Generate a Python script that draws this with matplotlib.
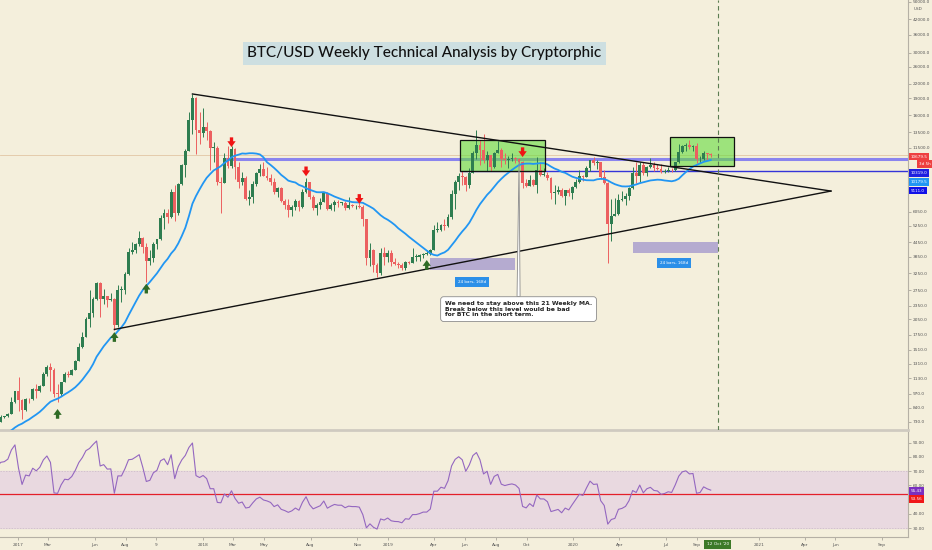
import matplotlib
matplotlib.use('Agg')
import matplotlib.pyplot as plt
import matplotlib.dates as mdates
import numpy as np
import pandas as pd
from matplotlib.patches import Rectangle
from matplotlib.ticker import NullLocator, NullFormatter
from matplotlib.transforms import blended_transform_factory

# ---- weekly BTC/USD candles (first week 2016-11-28) ----
first_open = 730
close = [765, 770, 790, 895, 995,
         905, 820, 920, 915, 1015, 1000, 1050, 1180, 1270, 1230, 970, 965, 1085,
         1180, 1175, 1230, 1350, 1550, 1720, 2050, 2190, 2520, 2950, 2510, 2590,
         2500, 2510, 1930, 2750, 2750, 3230, 4050, 4100, 4350, 4650, 4250, 3700,
         3780, 4380, 4600, 5700, 6000, 5750, 7400, 5950, 8000, 9700, 11200, 15200,
         19100, 13800, 13400,
         14200, 13600, 11500, 11500, 8200, 8100, 10400, 9600, 11400, 9500, 8200,
         8500, 6850, 7000, 8000, 8900, 9300, 8700, 8500, 8200, 7350, 7650, 6750,
         6500, 6150, 6350, 6720, 6350, 7400, 8200, 7000, 6300, 6500, 6700, 7300,
         6250, 6500, 6700, 6600, 6600, 6300, 6450, 6400, 6400, 6350, 5600, 3800,
         4100, 3550, 3250, 4000, 3850, 4000,
         3650, 3570, 3550, 3420, 3650, 3600, 3850, 3850, 3900, 3970, 3970, 4100,
         5050, 5050, 5300, 5250, 5750, 7200, 8200, 8700, 8550, 7950, 8900, 10900,
         11800, 11300, 10200, 10700, 9500, 10900, 11300, 10300, 10150, 10300,
         10400, 10300, 10000, 8050, 7850, 8300, 7950, 9250, 8800, 8800, 8500,
         7300, 7400, 7500, 7100, 7500, 7300, 7750,
         8200, 8700, 8600, 9350, 10150, 9900, 9950, 8550, 8050, 5350, 5800, 5900,
         6800, 6900, 7100, 7700, 8900, 8700, 9700, 8900, 9450, 9650, 9350, 9300,
         9000, 9080, 9250, 9200, 9950, 11050, 11700, 11850, 11650, 11700, 10250,
         10330, 10930, 10780, 10679.5]
high = [780, 775, 795, 935, 1000,
        1150, 915, 925, 925, 1030, 1070, 1060, 1210, 1290, 1320, 1250, 1070, 1090,
        1210, 1220, 1240, 1360, 1610, 1800, 2100, 2760, 2560, 2980, 2990, 2780,
        2600, 2660, 2540, 2900, 2850, 3300, 4200, 4480, 4400, 4980, 4700, 4400,
        4110, 4450, 4620, 5850, 6190, 6200, 7600, 7880, 8050, 9750, 11400, 16500,
        19800, 19300, 16500,
        17200, 15000, 13800, 12200, 11700, 8600, 10950, 11700, 11700, 11550, 9970,
        9000, 8650, 7500, 8250, 9000, 9750, 9950, 9450, 8880, 8500, 7750, 7780,
        6850, 6850, 6500, 6850, 6780, 7600, 8500, 8200, 7150, 6600, 6950, 7400,
        7400, 6600, 6780, 6800, 6700, 6720, 7000, 6520, 6500, 6600, 6480, 5600,
        4400, 4150, 3600, 4200, 4250, 4100,
        4100, 3800, 3650, 3600, 3700, 3700, 4200, 3950, 3950, 4000, 4100, 4150,
        5300, 5470, 5350, 5650, 5900, 7500, 8350, 8950, 9100, 8700, 9400, 11200,
        13800, 12400, 13200, 11100, 10700, 11000, 12300, 11450, 10950, 10650,
        10900, 10450, 10350, 10050, 8450, 8800, 8450, 10500, 9950, 9400, 9000,
        8600, 7900, 7800, 7650, 7500, 7700, 7850,
        8450, 9200, 8800, 9600, 10200, 10500, 10200, 10000, 9200, 8150, 6900, 6950,
        7200, 7450, 7300, 7750, 9450, 10000, 9950, 9950, 9600, 10400, 10000, 9750,
        9800, 9300, 9450, 9350, 10000, 12000, 11900, 12100, 12450, 11800, 12050,
        10600, 11180, 10980, 10950]
low = [725, 755, 765, 790, 880,
       810, 750, 815, 880, 910, 930, 990, 1050, 1160, 1000, 940, 890, 950,
       1085, 1150, 1170, 1230, 1350, 1540, 1720, 1900, 2100, 2500, 2100, 2400,
       2320, 2460, 1830, 1900, 2450, 2650, 3200, 3950, 3990, 4300, 4000, 2970,
       3550, 3650, 4140, 4560, 5100, 5380, 5700, 5500, 5850, 7900, 8600, 11100,
       13200, 10800, 12000,
       12800, 12500, 9200, 10000, 7900, 6000, 8100, 9350, 9400, 8400, 7700,
       7900, 6800, 6450, 6600, 7850, 8650, 8650, 8300, 7950, 7250, 7050, 6650,
       6250, 5750, 5800, 6150, 6100, 6300, 7300, 6900, 6150, 5880, 6250, 6650,
       6150, 6150, 6100, 6350, 6450, 6150, 6250, 6350, 6250, 6300, 5250, 3550,
       3500, 3300, 3150, 3200, 3550, 3650,
       3500, 3550, 3450, 3350, 3380, 3580, 3600, 3700, 3700, 3800, 3900, 3900,
       4100, 4950, 4960, 5050, 5180, 5600, 6200, 7500, 7950, 7450, 7700, 8900,
       10300, 9700, 9850, 9100, 9150, 9400, 10900, 9450, 9800, 9350,
       10050, 9900, 9600, 7700, 7750, 7800, 7850, 7300, 8700, 8700, 8350,
       6850, 6550, 7200, 7000, 6450, 7100, 6850,
       7700, 8100, 8250, 8550, 9150, 9700, 9300, 8450, 8000, 3600, 4500, 5850,
       5850, 6750, 6500, 6800, 7600, 8100, 8200, 8800, 8650, 9350, 9100, 9200,
       8900, 8950, 9050, 9050, 9150, 9900, 10950, 11150, 11350, 11100, 9850,
       9900, 10200, 10150, 10450]

# weekly closes before the visible window (May - Nov 2016), needed for MA and RSI
warmup_close = [450, 455, 445, 470, 575, 585, 760, 665, 700, 650, 665, 655, 625,
                590, 570, 580, 575, 610, 610, 608, 600, 610, 615, 640, 655, 700,
                705, 705, 740, 735]

# annotation anchors (date, price)
peak_date, peak_price = '2017-12-11', 19800
base_date, base_price = '2017-07-10', 1850
apex_date, apex_price = '2021-05-23', 7450
resistance = 10319.0
support = 9111.0
last_price = 10679.5
ma_last, rsi_last, rsi_signal = 10179.5, 55.43, 53.56

buy_dates = ['2017-03-20', '2017-07-10', '2017-09-11', '2019-03-18']
buy_prices = [830, 1800, 2930, 3720]
sell_dates = ['2018-02-26', '2018-07-23', '2018-11-05', '2019-09-23']
sell_prices = [11600, 8650, 6550, 10490]

green_boxes = [('2019-05-23', '2019-11-06', 9111, 12450),
               ('2020-07-09', '2020-11-12', 9600, 12850)]
ranges = [('2019-03-25', '2019-09-09', 3380, 3800, 2980),
          ('2020-04-27', '2020-10-12', 4000, 4450, 3610)]
cursor_date = '2020-10-12'

price_ticks = [50000, 42000, 36000, 30000, 26000, 22000, 19000, 16000, 13500,
               11500, 7950, 6050, 5250, 4450, 3850, 3250, 2750, 2350, 2050,
               1750, 1510, 1310, 1130, 970, 840, 730]
rsi_ticks = [30, 40, 60, 70, 80, 90]
x_tick_dates = ['2017-01-01', '2017-03-01', '2017-06-01', '2017-08-01', '2017-10-01',
                '2018-01-01', '2018-03-01', '2018-05-01', '2018-08-01', '2018-11-01',
                '2019-01-01', '2019-04-01', '2019-06-01', '2019-08-01', '2019-10-01',
                '2020-01-01', '2020-04-01', '2020-07-01', '2020-09-01',
                '2021-01-01', '2021-04-01', '2021-06-01', '2021-09-01']
x_tick_labels = ['2017', 'Mar', 'Jun', 'Aug', '9', '2018', 'Mar', 'May', 'Aug', 'Nov',
                 '2019', 'Apr', 'Jun', 'Aug', 'Oct', '2020', 'Apr', 'Jul', 'Sep',
                 '2021', 'Apr', 'Jun', 'Sep']

BG = '#f4efdc'
UP, DOWN = '#2e7d50', '#ec6060'
TXT = '#555555'

close = np.array(close, dtype=float)
high = np.array(high, dtype=float)
low = np.array(low, dtype=float)
opens = np.concatenate([[first_open], close[:-1]])
high = np.maximum(high, np.maximum(opens, close))
low = np.minimum(low, np.minimum(opens, close))
dates = pd.date_range('2016-11-28', periods=len(close), freq='7D')
warm_dates = pd.date_range(end=dates[0] - pd.Timedelta(days=7), periods=len(warmup_close), freq='7D')
all_dates = warm_dates.append(dates)
all_close = pd.Series(np.concatenate([warmup_close, close]))

ma21 = all_close.rolling(21).mean()
delta = all_close.diff()
gain = delta.clip(lower=0).ewm(alpha=1 / 14, adjust=False).mean()
loss = (-delta.clip(upper=0)).ewm(alpha=1 / 14, adjust=False).mean()
rsi = 100 - 100 / (1 + gain / loss)

D = lambda s: mdates.date2num(pd.Timestamp(s))
xd = mdates.date2num(dates)

fig = plt.figure(figsize=(9.32, 5.5), dpi=100, facecolor=BG)
ax = fig.add_axes([0, 120 / 550, 908 / 932, 430 / 550], facecolor=BG)
rax = fig.add_axes([0, 13 / 550, 908 / 932, 105 / 550], facecolor=BG, sharex=ax)

# candles
up = close >= opens
colors = np.where(up, UP, DOWN)
bottoms = np.minimum(opens, close)
heights = np.maximum(np.abs(close - opens), bottoms * 0.006)
ax.vlines(xd, low, high, colors=colors, lw=0.7, zorder=3)
ax.bar(xd, heights, bottom=bottoms, width=5.6, color=colors, linewidth=0, zorder=3)

ax.plot(mdates.date2num(all_dates), ma21, color='#2196f3', lw=1.3, zorder=4)

# levels
ax.axhline(last_price, color='#e2c6a4', lw=0.6, zorder=1)
ax.hlines(resistance, D('2018-02-12'), D('2021-12-31'), color='#8a84ee', lw=2.2, zorder=2)
ax.hlines(support, D('2019-05-23'), D('2021-12-31'), color='#3434d8', lw=1.0, zorder=2)

# triangle
ax.plot([D(peak_date), D(apex_date)], [peak_price, apex_price], color='#111111', lw=1.0, zorder=5)
ax.plot([D(base_date), D(apex_date)], [base_price, apex_price], color='#111111', lw=1.0, zorder=5)

for d0, d1, p0, p1 in green_boxes:
    ax.add_patch(Rectangle((D(d0), p0), D(d1) - D(d0), p1 - p0, fc='#64dc3c', alpha=0.6,
                           ec='none', zorder=2))
    ax.add_patch(Rectangle((D(d0), p0), D(d1) - D(d0), p1 - p0, fc='none', ec='#111111',
                           lw=0.9, zorder=5))

for d0, d1, p0, p1, plab in ranges:
    ax.add_patch(Rectangle((D(d0), p0), D(d1) - D(d0), p1 - p0, fc='#8c7fc8', alpha=0.6,
                           ec='none', zorder=2))
    ax.text((D(d0) + D(d1)) / 2 - 2, plab, '24 bars, 168d', ha='center', va='center',
            fontsize=3.0, color='white', zorder=6,
            bbox=dict(boxstyle='square,pad=0.7', fc='#2b8fe8', ec='none'))

ax.axvline(D(cursor_date), color='#5c7d52', lw=0.8, ls=(0, (4, 3)), zorder=5)

for d, p in zip(buy_dates, buy_prices):
    ax.annotate('', xy=(D(d), p), xytext=(0, -7), textcoords='offset points',
                arrowprops=dict(arrowstyle='simple,head_length=0.7,head_width=1.0,tail_width=0.4',
                                mutation_scale=6, fc='#2f6b25', ec='none', shrinkA=0, shrinkB=0),
                zorder=6)
for d, p in zip(sell_dates, sell_prices):
    ax.annotate('', xy=(D(d), p), xytext=(0, 7), textcoords='offset points',
                arrowprops=dict(arrowstyle='simple,head_length=0.7,head_width=1.0,tail_width=0.4',
                                mutation_scale=6, fc='#f01414', ec='none', shrinkA=0, shrinkB=0),
                zorder=6)

note = ('We need to stay above this 21 Weekly MA.\n'
        'Break below this level would be bad\n'
        'for BTC in the short term.')
ax.annotate(note, xy=(D('2019-09-16'), 10200), xytext=(0.490, 0.300),
            textcoords='axes fraction', ha='left', va='top', fontsize=4.4,
            fontweight='bold', color='#222222', linespacing=1.15, zorder=7,
            bbox=dict(boxstyle='round,pad=0.7,rounding_size=0.5', fc='white', ec='#8c8c8c', lw=0.6),
            arrowprops=dict(arrowstyle='wedge,tail_width=0.5', fc='white', ec='#8c8c8c',
                            lw=0.6, relpos=(0.5, 1.0), shrinkA=0, shrinkB=1))

ax.text(0.4675, 0.8756, 'BTC/USD Weekly Technical Analysis by Cryptorphic',
        transform=ax.transAxes, ha='center', va='center', fontsize=11,
        family=['Lato', 'DejaVu Sans'], fontweight='medium', color='#111111', zorder=7,
        bbox=dict(boxstyle='square,pad=0.28', fc='#cddfe1', ec='none'))

# price axis
ax.set_yscale('log')
ax.set_ylim(672, 51000)
ax.set_xlim(pd.Timestamp('2016-11-26 12:00'), pd.Timestamp('2021-10-22'))
ax.yaxis.tick_right()
ax.set_yticks(price_ticks)
ax.set_yticklabels([f'{v:.1f}' for v in price_ticks])
ax.yaxis.set_minor_locator(NullLocator())
ax.yaxis.set_minor_formatter(NullFormatter())
ax.tick_params(axis='y', labelsize=3.1, labelcolor=TXT, color='#9a968c', length=2, width=0.5, pad=1.5)
ax.tick_params(axis='x', bottom=False, labelbottom=False)
for s in ['top', 'left']:
    ax.spines[s].set_visible(False)
ax.spines['right'].set_color('#b5b0a5')
ax.spines['right'].set_linewidth(0.8)
ax.spines['bottom'].set_color('#cfcac0')
ax.spines['bottom'].set_linewidth(2)
ax.text(1.006, 0.984, 'USD', transform=ax.transAxes, fontsize=3.0, color=TXT, va='top')

# value labels in the price scale
tag = dict(transform=ax.transAxes, fontsize=3.0, color='white', va='center', ha='left', zorder=8)
ax.text(1.003, 1 - 156.5 / 430, f'{last_price:.1f}', bbox=dict(boxstyle='square,pad=0.45', fc='#ee4040', ec='none'), **tag)
ax.text(1.012, 1 - 164 / 430, '3d 5h', bbox=dict(boxstyle='square,pad=0.45', fc='#ee4040', ec='none'), **tag)
ax.text(1.003, 1 - 173 / 430, f'{resistance:.1f}', bbox=dict(boxstyle='square,pad=0.45', fc='#1f1fe0', ec='none'), **tag)
ax.text(1.003, 1 - 182 / 430, f'{ma_last:.1f}', bbox=dict(boxstyle='square,pad=0.45', fc='#2196f3', ec='none'), **tag)
ax.text(1.003, 1 - 190.5 / 430, f'{support:.1f}', bbox=dict(boxstyle='square,pad=0.45', fc='#1010e8', ec='none'), **tag)

# RSI pane
rax.axhspan(30, 70, color='#e9d9e0', zorder=0)
rax.axhline(70, color='#c9b9c6', lw=0.5, ls=(0, (2, 2)), zorder=1)
rax.axhline(30, color='#c9b9c6', lw=0.5, ls=(0, (2, 2)), zorder=1)
rax.axhline(54, color='#e4202a', lw=0.9, zorder=2)
rax.plot(mdates.date2num(all_dates), rsi, color='#9467c0', lw=0.8, zorder=3)
rax.set_ylim(23.7, 97.4)
rax.yaxis.tick_right()
rax.set_yticks(rsi_ticks)
rax.set_yticklabels([f'{v:.2f}' for v in rsi_ticks])
rax.tick_params(axis='y', labelsize=3.1, labelcolor=TXT, color='#9a968c', length=2, width=0.5, pad=1.5)
rax.set_xticks([D(d) for d in x_tick_dates])
rax.set_xticklabels(x_tick_labels)
rax.tick_params(axis='x', labelsize=3.1, labelcolor=TXT, color='#9a968c', length=2, width=0.5, pad=2)
for s in ['top', 'left']:
    rax.spines[s].set_visible(False)
for s in ['right', 'bottom']:
    rax.spines[s].set_color('#b5b0a5')
    rax.spines[s].set_linewidth(0.8)

rtag = dict(transform=rax.transAxes, fontsize=3.0, color='white', va='center', ha='left', zorder=8)
rax.text(1.003, 1 - 59 / 105, f'{rsi_last:.2f}', bbox=dict(boxstyle='square,pad=0.45', fc='#7a2fc0', ec='none'), **rtag)
rax.text(1.003, 1 - 67 / 105, f'{rsi_signal:.2f}', bbox=dict(boxstyle='square,pad=0.45', fc='#f01818', ec='none'), **rtag)

bt = blended_transform_factory(rax.transData, rax.transAxes)
rax.text(D(cursor_date), -0.068, "12 Oct '20", transform=bt, ha='center', va='center',
         fontsize=3.1, color='white', zorder=8,
         bbox=dict(boxstyle='square,pad=0.6', fc='#3d7a28', ec='none'))

fig.savefig('out.png', dpi=100, facecolor=BG)
